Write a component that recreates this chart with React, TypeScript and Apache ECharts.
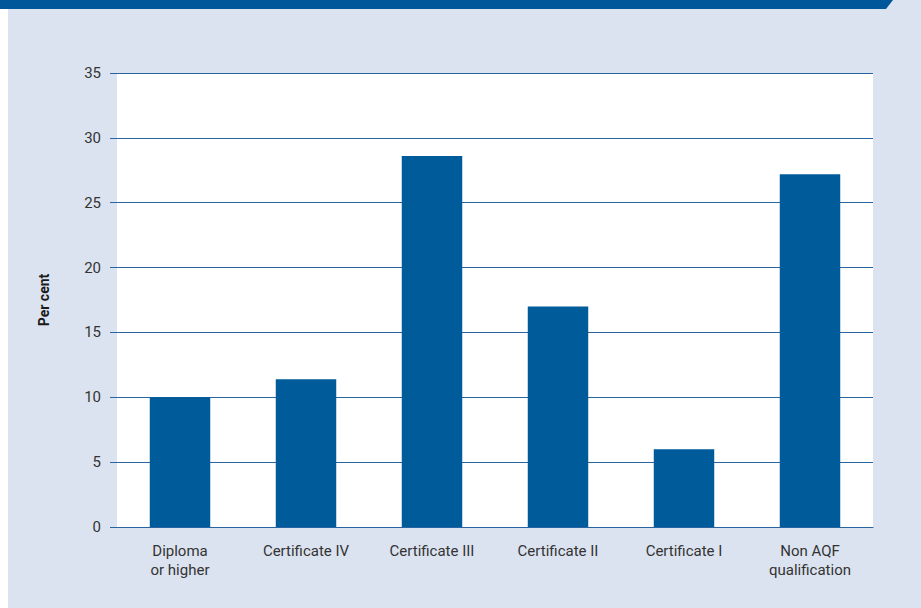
import React, { useEffect, useRef } from "react";
import * as echarts from "echarts";

const categories = ["Diploma\nor higher", "Certificate IV", "Certificate III", "Certificate II", "Certificate I", "Non AQF\nqualification"];
const values = [10.0, 11.4, 28.6, 17.0, 6.0, 27.2];
const yTicks = { min: 0, max: 35, interval: 5 };
const yAxisName = "Per cent";

const FONT = "Roboto, 'Liberation Sans', sans-serif";

export default function App() {
  const ref = useRef<HTMLDivElement>(null);
  useEffect(() => {
    if (!ref.current) return;
    const chart = echarts.init(ref.current, undefined, { renderer: "svg" });
    chart.setOption({
      animation: false,
      backgroundColor: "#ffffff",
      graphic: [
        { type: "rect", shape: { x: 8, y: 0, width: 913, height: 608 }, style: { fill: "#dce3f0" }, z: -10 },
        {
          type: "polygon",
          shape: { points: [[0, 0], [893, 0], [886, 9], [0, 9]] },
          style: { fill: "#00589a" },
          z: -5,
        },
      ],
      grid: {
        left: 117,
        right: 48,
        top: 73,
        bottom: 81,
        show: true,
        backgroundColor: "#ffffff",
        borderWidth: 0,
      },
      xAxis: {
        type: "category",
        data: categories,
        axisLine: { show: true, lineStyle: { color: "#2a64a0", width: 1 } },
        axisTick: { show: false },
        axisLabel: { color: "#333333", fontSize: 15, fontFamily: FONT, margin: 14, lineHeight: 19, interval: 0 },
      },
      yAxis: {
        type: "value",
        min: yTicks.min,
        max: yTicks.max,
        interval: yTicks.interval,
        name: yAxisName,
        nameLocation: "middle",
        nameGap: 66,
        nameTextStyle: { color: "#1a1a1a", fontSize: 14, fontWeight: "bold", fontFamily: FONT },
        axisLine: { show: false },
        axisTick: { show: true, length: 7, lineStyle: { color: "#2a64a0", width: 1 } },
        axisLabel: { color: "#333333", fontSize: 15, fontFamily: FONT, margin: 16 },
        splitLine: { show: true, lineStyle: { color: "#2a64a0", width: 1 } },
      },
      series: [
        {
          type: "bar",
          data: values,
          barWidth: "48%",
          itemStyle: { color: "#005b9a" },
        },
      ],
    });
    return () => chart.dispose();
  }, []);
  return <div ref={ref} style={{ position: "fixed", left: 0, top: 0, width: 921, height: 608 }} />;
}
